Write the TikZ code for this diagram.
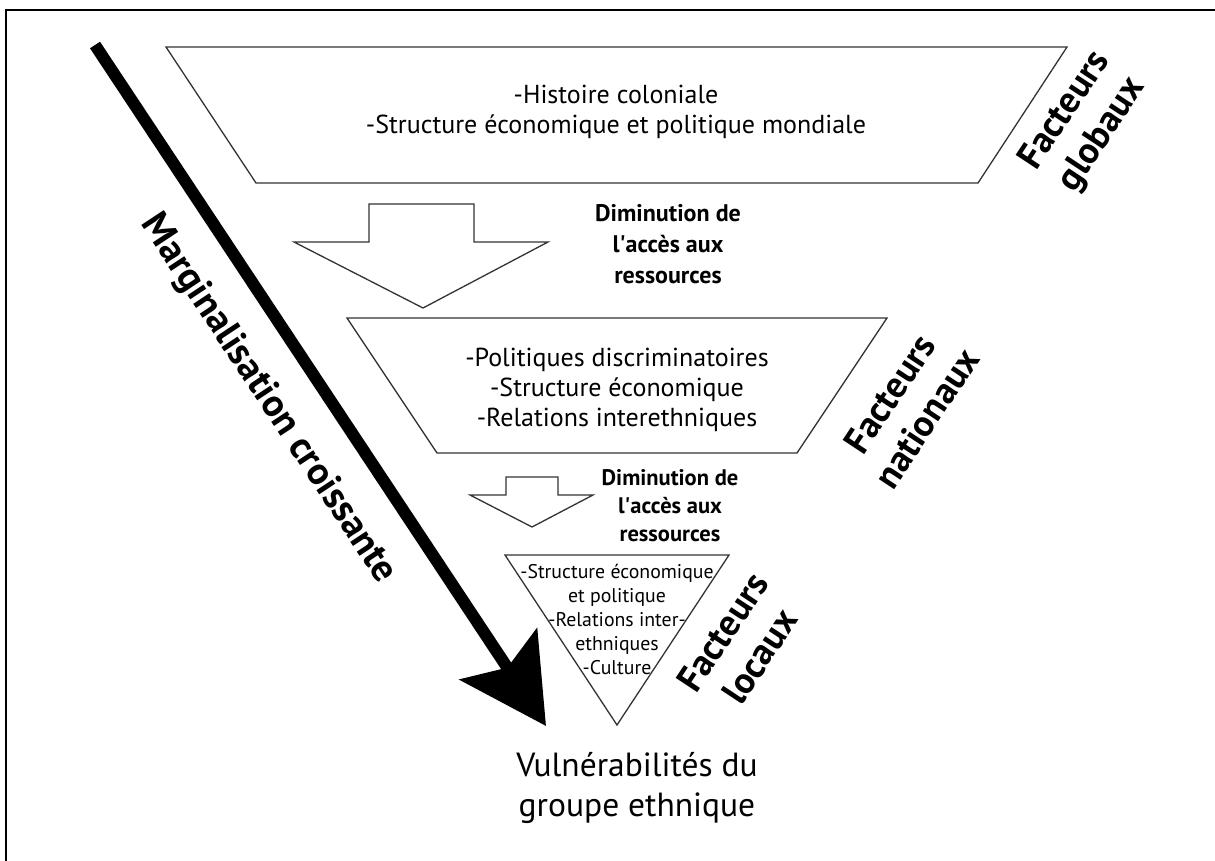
\documentclass[tikz,border=0pt]{standalone}
\usepackage{fontspec}
\setmainfont{PT Sans}
\usetikzlibrary{arrows.meta}

\begin{document}
\begin{tikzpicture}[
  x=1pt, y=-1pt,
  level/.style={draw=black!80, line width=1.3pt, fill=white, line join=miter},
  frame/.style={line width=2.4pt},
  items/.style={align=center, font=\fontsize{26}{30}\selectfont},
  smallitems/.style={align=center, font=\fontsize{19.8}{24}\selectfont},
  access/.style={align=center, font=\fontsize{24}{31}\selectfont\bfseries},
  factor/.style={align=center, rotate=56.5, font=\fontsize{37}{44}\selectfont\bfseries},
  marg/.style={-{Stealth[length=86pt, width=92pt, inset=16pt]}, line width=12pt},
]
  \useasboundingbox (0,0) rectangle (1215,861);
  % cadre
  \draw[frame] (6,861) -- (6,10) -- (1215,10);

  % niveaux
  \draw[level] (166,47) -- (1067,47) -- (978,183) -- (256,183) -- cycle;
  \draw[level] (347,318) -- (887,318) -- (797,453) -- (437,453) -- cycle;
  \draw[level] (505,555) -- (729,555) -- (617,725) -- cycle;

  % fleches creuses
  \draw[level] (369,204) -- (474,204) -- (474,242) -- (548,242) -- (423,308)
    -- (294,242) -- (369,242) -- cycle;
  \draw[level] (506,477) -- (558,477) -- (558,495) -- (593,495) -- (532,527)
    -- (470,495) -- (506,495) -- cycle;

  % textes
  \node[items] (global) at (616,112) {-Histoire coloniale\\-Structure économique et politique mondiale};
  \node[items] (national) at (617,390) {-Politiques discriminatoires\\-Structure économique\\-Relations interethniques};
  \node[smallitems] (local) at (617,619) {-Structure économique\\et politique\\-Relations inter-\\ethniques\\-Culture};

  \node[access] (acc1) at (668,244) {Diminution de\\l\textquotesingle accès aux\\ressources};
  \node[access, font=\fontsize{22.5}{28}\selectfont\bfseries] (acc2) at (670,506) {Diminution de\\l\textquotesingle accès aux\\ressources};

  \node[factor] (fglob) at (1084,123) {Facteurs\\globaux};
  \node[factor] (fnat) at (908,406) {Facteurs\\nationaux};
  \node[factor] (floc) at (741,644) {Facteurs\\locaux};

  \node[align=center, font=\fontsize{33.5}{40}\selectfont] (vuln) at (637,788) {Vulnérabilités du\\groupe ethnique};

  % marginalisation
  \coordinate (mstart) at (95,45);
  \coordinate (mtip) at (546,726);
  \draw[marg] (mstart) -- (mtip);
  \node[rotate=-56.5, font=\fontsize{38.5}{44}\selectfont\bfseries] (margtxt) at (268,399) {Marginalisation croissante};
\end{tikzpicture}
\end{document}
